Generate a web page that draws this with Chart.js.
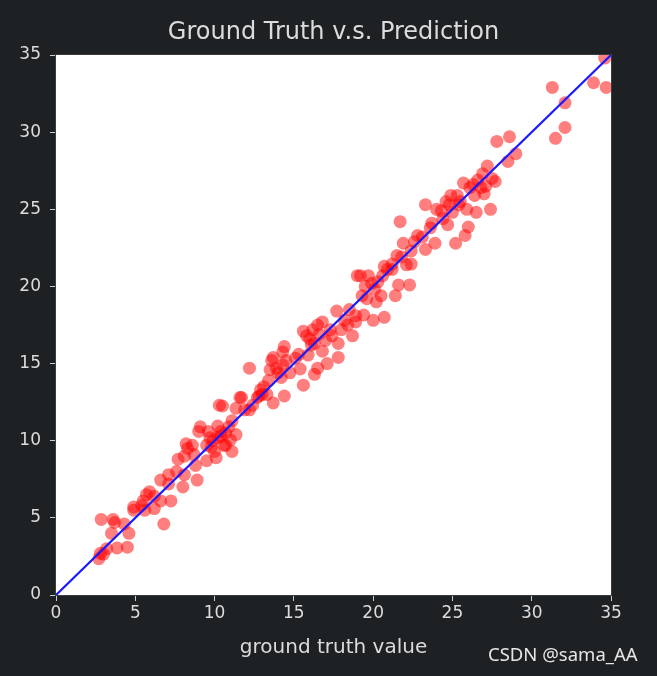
<!DOCTYPE html>
<html>
<head>
<meta charset="utf-8">
<script src="https://cdn.jsdelivr.net/npm/chart.js@4/dist/chart.umd.min.js"></script>
<style>
  html, body { margin: 0; padding: 0; background: #1e2123; }
  .wrap { position: relative; width: 657px; height: 676px; }
  .mark { position: absolute; left: 488px; top: 641px; color: #e6e6e6;
          font: 18.5px "Noto Sans", sans-serif; white-space: nowrap; }
</style>
</head>
<body>
<div class="wrap">
  <canvas id="chart" width="657" height="676"></canvas>
  <div class="mark">CSDN @sama_AA</div>
</div>
<script>
const chartTitle = 'Ground Truth v.s. Prediction';
const xLabel = 'ground truth value';
const axisTicks = [0, 5, 10, 15, 20, 25, 30, 35];

// ground truth values
const truth = [
  2.7, 2.8, 3.0, 2.85, 3.2, 3.5, 3.6, 3.7, 3.85, 4.3, 4.5, 4.6, 4.9, 4.9, 5.4, 5.5, 5.6, 5.7, 5.9, 6.2,
  6.2, 6.6, 6.6, 6.8, 7.1, 7.25, 7.1, 7.6, 7.7, 8.0, 8.1, 8.1, 8.2, 8.6, 8.8, 8.9, 8.7, 8.3, 9.0, 9.1,
  9.5, 9.5, 9.6, 9.8, 9.9, 10.0, 10.1, 10.2, 10.3, 10.5, 10.6, 10.7, 10.7, 11.0, 11.1, 11.1, 11.35, 11.35, 11.6, 11.7,
  11.9, 12.2, 12.2, 12.4, 12.7, 12.8, 13.0, 13.1, 13.4, 13.5, 13.6, 13.7, 13.7, 13.9, 14.2, 14.3, 14.3, 14.4, 14.4, 14.5,
  14.75, 15.1, 15.3, 15.4, 15.6, 15.6, 15.8, 15.9, 16.1, 16.2, 16.3, 16.3, 16.5, 16.5, 16.8, 16.8, 17.1, 17.3, 17.4, 17.7,
  17.8, 17.8, 18.0, 18.2, 18.4, 18.5, 18.7, 18.9, 18.9, 19.0, 19.2, 19.3, 19.4, 19.5, 19.7, 19.9, 20.0, 20.1, 20.2, 20.3,
  20.5, 20.7, 20.7, 20.9, 21.2, 21.2, 21.4, 21.5, 21.6, 21.7, 21.8, 21.9, 22.1, 22.3, 22.4, 22.4, 22.6, 23.1, 23.3, 23.3,
  23.7, 23.9, 24.0, 24.3, 24.6, 24.7, 24.9, 25.0, 25.2, 25.5, 25.7, 25.8, 25.9, 26.0, 26.1, 26.4, 26.5, 26.9, 27.0, 27.2,
  27.4, 27.5, 27.7, 27.8, 28.5, 28.6, 29.0, 31.3, 31.5, 32.1, 32.1, 33.9, 34.7, 34.6,
  9.7, 10.2, 10.4, 12.9, 16.6, 17.0, 24.4, 25.3, 26.3, 26.6, 27.1, 22.8, 23.6,
  10.4, 10.9, 13.3, 14.0, 16.0, 25.4, 26.8, 24.8, 20.6, 19.6
];

// predicted values
const predicted = [
  2.35, 2.7, 2.65, 4.9, 3.0, 4.0, 4.9, 4.7, 3.05, 4.6, 3.1, 4.0, 5.5, 5.7, 5.8, 6.1, 5.5, 6.5, 6.7, 6.4,
  5.6, 6.1, 7.45, 4.6, 7.2, 6.1, 7.8, 8.0, 8.8, 7.0, 7.8, 9.0, 9.8, 9.7, 8.4, 7.45, 9.1, 9.5, 10.6, 10.9,
  9.7, 8.7, 10.6, 9.6, 10.0, 9.3, 8.9, 10.95, 12.3, 12.25, 9.7, 10.5, 9.7, 10.05, 11.3, 9.3, 10.4, 12.1, 12.8, 12.8,
  12.0, 12.0, 14.7, 12.3, 12.8, 12.9, 13.0, 13.5, 13.9, 14.6, 15.2, 12.45, 15.4, 14.7, 14.1, 14.9, 15.75, 12.9, 16.1, 15.2,
  14.4, 15.35, 15.6, 14.65, 13.6, 17.1, 16.8, 15.55, 16.2, 17.2, 16.3, 14.3, 14.7, 17.5, 15.8, 17.7, 15.0, 17.2, 16.8, 18.4,
  15.4, 16.3, 17.2, 17.8, 17.5, 18.5, 16.8, 17.7, 18.1, 20.7, 20.7, 19.4, 18.15, 20.0, 20.7, 20.2, 17.8, 19.8, 19.0, 20.3,
  19.4, 21.3, 18.0, 21.1, 21.45, 21.1, 19.4, 22.0, 20.1, 24.2, 21.9, 22.8, 21.4, 20.1, 21.45, 22.3, 22.9, 23.2, 22.4, 25.3,
  24.1, 22.8, 25.0, 24.9, 25.5, 24.0, 25.9, 24.8, 22.8, 25.5, 26.7, 23.3, 25.0, 23.85, 26.4, 25.9, 24.8, 27.3, 26.0, 27.8,
  25.0, 27.0, 26.8, 29.4, 28.1, 29.7, 28.6, 32.9, 29.6, 31.9, 30.3, 33.2, 32.9, 34.8,
  10.2, 10.2, 10.6, 13.3, 16.9, 16.5, 24.4, 25.9, 26.6, 26.9, 26.5, 23.3, 23.8,
  10.3, 10.9, 13.0, 14.4, 16.6, 25.3, 26.4, 25.3, 20.7, 19.2
];

// reference line y = x
const lineX = [0, 35];
const lineY = [0, 35];

const points = truth.map((t, i) => ({ x: t, y: predicted[i] }));
const diag = lineX.map((v, i) => ({ x: v, y: lineY[i] }));

const textColor = '#dcdcdc';

const plotFrame = {
  id: 'plotFrame',
  beforeDatasetsDraw(chart) {
    const { ctx, chartArea: a } = chart;
    ctx.save();
    ctx.fillStyle = '#ffffff';
    ctx.fillRect(a.left, a.top, a.right - a.left, a.bottom - a.top);
    ctx.restore();
  },
  afterDatasetsDraw(chart) {
    const { ctx, chartArea: a } = chart;
    ctx.save();
    ctx.strokeStyle = '#3c3c3c';
    ctx.lineWidth = 1;
    ctx.strokeRect(a.left - 0.5, a.top - 0.5, a.right - a.left + 1, a.bottom - a.top + 1);
    // title centred over the plot area
    ctx.fillStyle = textColor;
    ctx.font = '24px "DejaVu Sans"';
    ctx.textAlign = 'center';
    ctx.textBaseline = 'middle';
    ctx.fillText(chartTitle, (a.left + a.right) / 2, 33);
    ctx.restore();
  }
};

const tickFont = { family: 'DejaVu Sans', size: 17 };

new Chart(document.getElementById('chart'), {
  type: 'scatter',
  data: {
    datasets: [
      {
        type: 'line',
        data: diag,
        borderColor: '#1a1aff',
        borderWidth: 2.2,
        pointRadius: 0,
        fill: false,
        clip: 0,
        order: 0
      },
      {
        data: points,
        backgroundColor: 'rgba(255, 0, 0, 0.5)',
        borderWidth: 0,
        pointRadius: 6.5,
        clip: 0,
        order: 1
      }
    ]
  },
  options: {
    responsive: false,
    animation: false,
    layout: { padding: { left: 0, right: 46, top: 55, bottom: 0 } },
    plugins: {
      legend: { display: false },
      tooltip: { enabled: false },
      title: { display: false }
    },
    scales: {
      x: {
        type: 'linear',
        min: 0,
        max: 35,
        afterBuildTicks: s => { s.ticks = axisTicks.map(v => ({ value: v })); },
        afterFit: s => { s.height = 81; },
        grid: { drawOnChartArea: false, drawTicks: true, tickLength: 6, color: '#cfcfcf' },
        border: { display: false },
        ticks: { color: textColor, font: tickFont, padding: 2, maxRotation: 0 },
        title: {
          display: true,
          text: xLabel,
          color: textColor,
          font: { family: 'DejaVu Sans', size: 20 },
          padding: { top: 0, bottom: 16 }
        }
      },
      y: {
        type: 'linear',
        min: 0,
        max: 35,
        afterBuildTicks: s => { s.ticks = axisTicks.map(v => ({ value: v })); },
        afterFit: s => { s.width = 56; },
        grid: { drawOnChartArea: false, drawTicks: true, tickLength: 6, color: '#cfcfcf' },
        border: { display: false },
        ticks: { color: textColor, font: tickFont, padding: 9 }
      }
    }
  },
  plugins: [plotFrame]
});
</script>
</body>
</html>
